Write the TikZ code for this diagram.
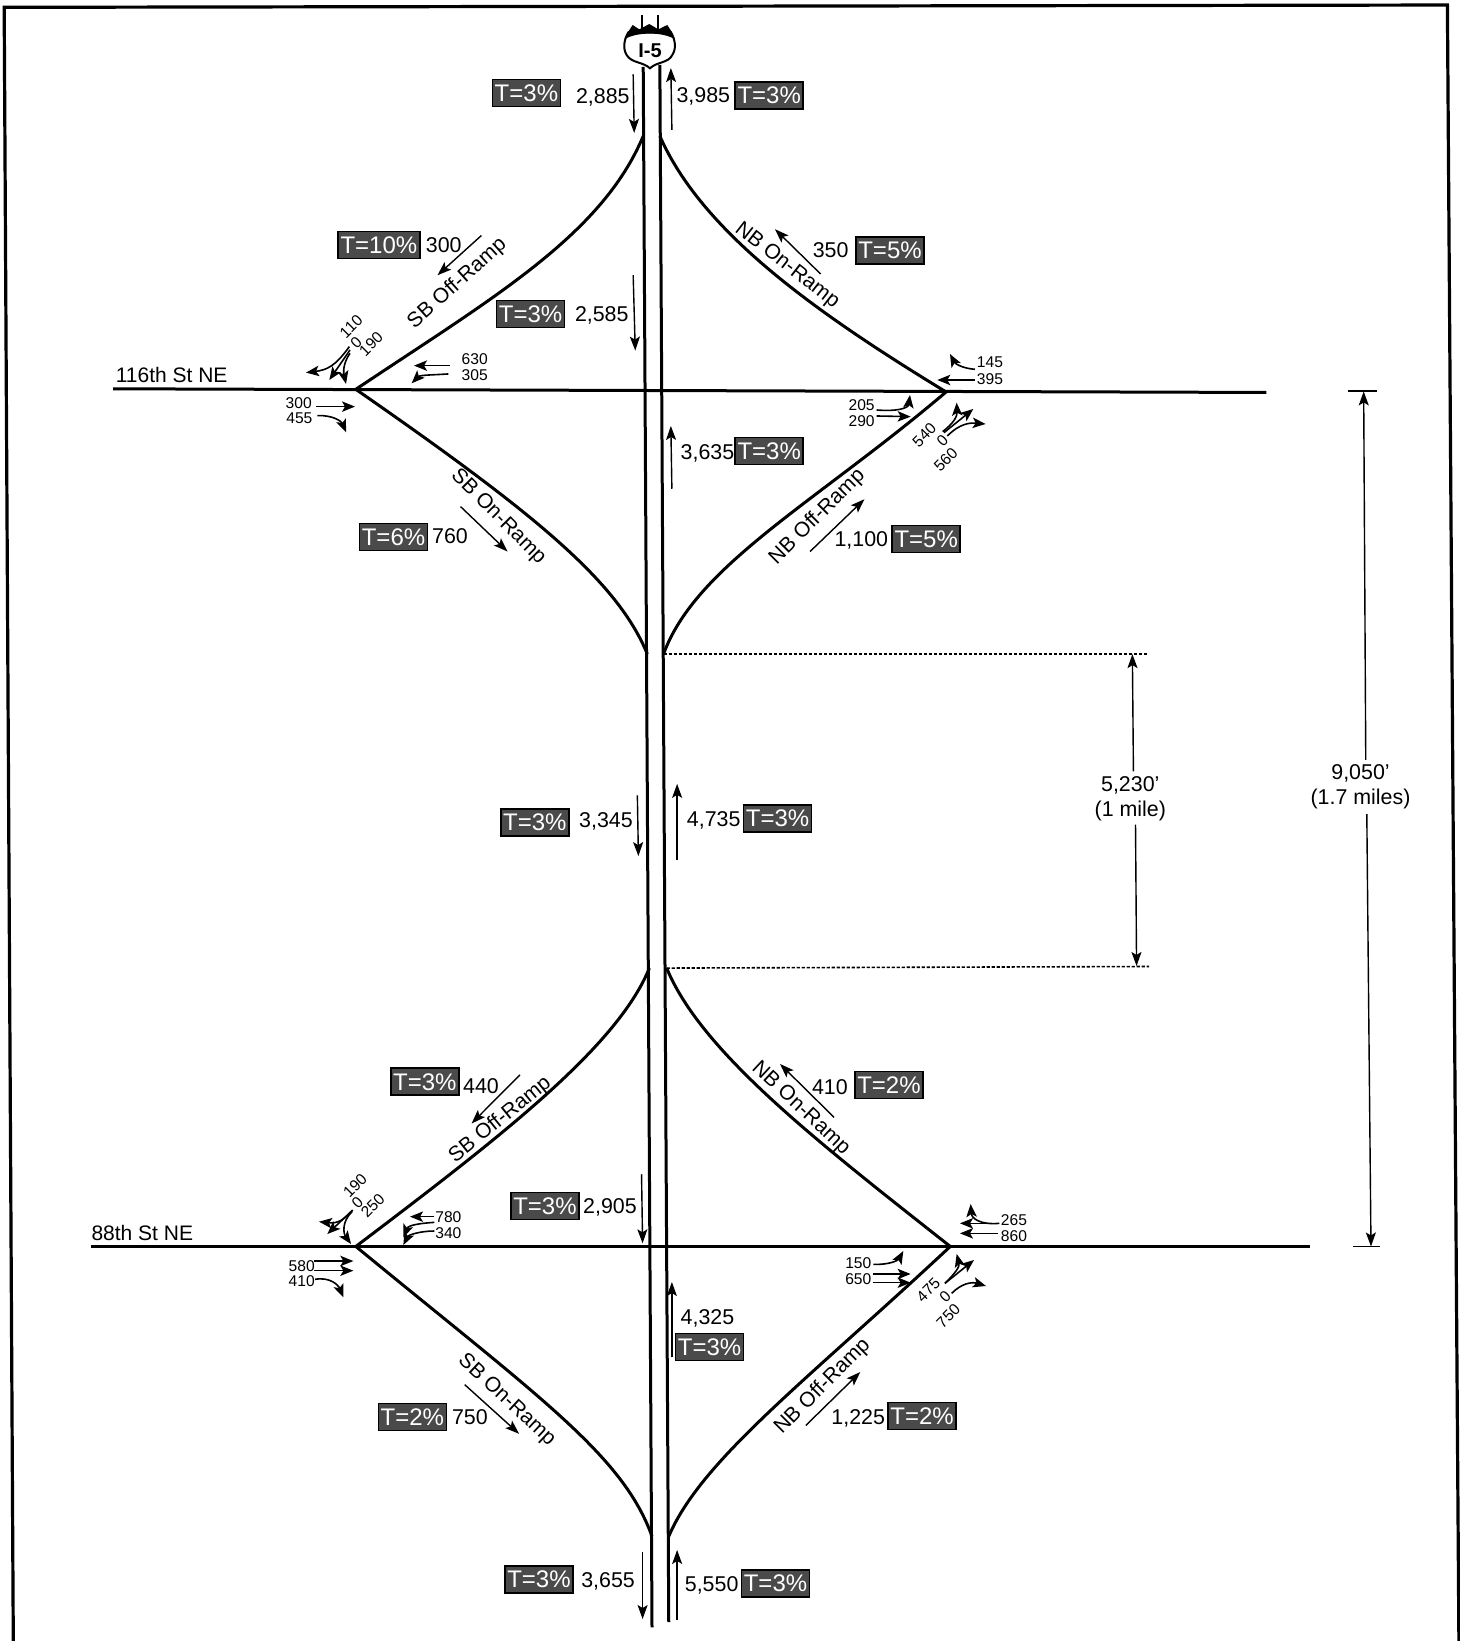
\documentclass[tikz,border=0pt]{standalone}
\usepackage{fontspec}
\setmainfont{Liberation Sans}
\usetikzlibrary{arrows.meta}
\definecolor{boxgray}{HTML}{4A4A4A}
\tikzset{
  base/.style={x=0.5233pt,y=-0.5233pt},
  road/.style={line width=1.5pt,black},
  flow/.style={line width=0.7pt,-{Stealth[length=7pt,width=5pt,inset=1.5pt]}},
  turn/.style={line width=0.8pt,-{Stealth[length=6.5pt,width=5.2pt,inset=1.5pt]}},
  tbox/.style={fill=boxgray,draw=black,line width=0.8pt,text=white,font=\fontsize{12}{12}\selectfont,inner sep=0pt,minimum height=13.5pt,minimum width=34pt,text depth=0pt},
  tboxw/.style={tbox,minimum width=41pt},
  num/.style={font=\fontsize{10.7}{12}\selectfont,inner sep=0pt,text depth=0pt},
  small/.style={font=\fontsize{7.8}{9}\selectfont,inner sep=0pt,text depth=0pt},
  ramp/.style={font=\fontsize{10.5}{12}\selectfont,inner sep=0pt},
  dim/.style={font=\fontsize{10.7}{12.5}\selectfont,align=center,inner sep=0pt},
  zoomI/.style={shift={(458.6,0)},x=0.16667pt,y=-0.16667pt},
  zoomA/.style={shift={(258,286.6)},x=0.16667pt,y=-0.16667pt},
  zoomB/.style={shift={(783.5,315.3)},x=0.16667pt,y=-0.16667pt},
  zoomC/.style={shift={(258,1108.4)},x=0.16667pt,y=-0.16667pt},
  zoomD/.style={shift={(783.5,1127.5)},x=0.16667pt,y=-0.16667pt},
}
\begin{document}
\begin{tikzpicture}[base]
\useasboundingbox (0,0) rectangle (1395,1568);
\fill[white] (0,0) rectangle (1395,1568);
% frame
\draw[line width=1.6pt] (12.7,1568) -- (4,7) -- (1383,4.8) -- (1394,1568);
% coordinates
\coordinate (w1) at (340,372);
\coordinate (e1) at (904,374.5);
\coordinate (w2) at (340,1191);
\coordinate (e2) at (908,1191);
\coordinate (sbA) at (614.6,130);
\coordinate (nbA) at (630.5,130);
\coordinate (sbB) at (618.5,625);
\coordinate (nbB) at (634,625);
\coordinate (sbC) at (620.5,925);
\coordinate (nbC) at (637,925);
\coordinate (sbD) at (623,1468);
\coordinate (nbD) at (639,1468);
% freeway
\draw[road] (614.6,64) -- (623,1555);
\draw[road] (630.5,62) -- (639,1550);
% streets
\draw[road] (108,371.5) -- (1210,375);
\draw[road] (87,1191) -- (1252,1191);
% ramps
\draw[road] (w1) .. controls (470,285) and (575,225) .. (sbA);
\draw[road] (e1) .. controls (775,296) and (670,220) .. (nbA);
\draw[road] (w1) .. controls (510,490) and (590,555) .. (sbB);
\draw[road] (e1) .. controls (780,480) and (665,540) .. (nbB);
\draw[road] (w2) .. controls (480,1085) and (590,1000) .. (sbC);
\draw[road] (e2) .. controls (780,1090) and (670,1005) .. (nbC);
\draw[road] (w2) .. controls (515,1335) and (595,1390) .. (sbD);
\draw[road] (e2) .. controls (770,1320) and (670,1395) .. (nbD);
% dimension lines
\draw[line width=0.8pt,dash pattern=on 1.6pt off 0.9pt] (nbB) -- (1096,625);
\draw[line width=0.8pt,dash pattern=on 1.6pt off 0.9pt] (nbC) -- (1098,923.5);
\draw[flow] (1083,737) -- (1082,625);
\draw[flow] (1085,788) -- (1086,923);
\draw[flow] (1305,726) -- (1303,374);
\draw[flow] (1306,778) -- (1310,1191);
\draw[line width=0.9pt] (1288,373.5) -- (1316,373.5);
\draw[line width=0.9pt] (1293,1191) -- (1319,1191);
\node[dim] (d1) at (1080,763) {5,230'\\(1 mile)};
\node[dim] (d2) at (1300,752) {9,050'\\(1.7 miles)};
% shield
\begin{scope}[zoomI]
\draw[line width=1pt] (487,45) -- (487,90);
\draw[line width=1pt] (535,45) -- (535,90);
\draw[line width=1pt,fill=white] (445,97) .. controls (432,120) and (428,145) .. (440,165) .. controls (455,190) and (490,185) .. (510,205) .. controls (530,185) and (565,190) .. (577,165) .. controls (590,145) and (586,120) .. (573,97) -- cycle;
\fill[black] (433,118) -- (445,95) -- (458,75) -- (478,88) -- (508,72) -- (535,88) -- (562,75) -- (575,95) -- (585,118) .. controls (550,95) and (470,95) .. cycle;
\node[font=\fontsize{10}{12}\selectfont\bfseries,inner sep=0pt] (shield) at (510,153) {I-5};
\end{scope}
% road names
\node[ramp] (n116) at (164,358) {116th St NE};
\node[ramp] (n88) at (136,1178) {88th St NE};
% ramp names
\node[ramp,rotate=42] (r1) at (437,271) {SB Off-Ramp};
\node[ramp,rotate=-38] (r2) at (752,254) {NB On-Ramp};
\node[ramp,rotate=-45] (r3) at (476,494) {SB On-Ramp};
\node[ramp,rotate=45] (r4) at (781,494) {NB Off-Ramp};
\node[ramp,rotate=39] (r5) at (478,1070) {SB Off-Ramp};
\node[ramp,rotate=-43] (r6) at (765,1059) {NB On-Ramp};
\node[ramp,rotate=-43] (r7) at (484,1338) {SB On-Ramp};
\node[ramp,rotate=45] (r8) at (786,1325) {NB Off-Ramp};
% T boxes
\node[tbox] (t1) at (503,89) {T=3\%};
\node[tbox] (t2) at (735,91) {T=3\%};
\node[tboxw] (t3) at (362,234) {T=10\%};
\node[tbox] (t4) at (850.4,239.5) {T=5\%};
\node[tbox] (t5) at (507,300) {T=3\%};
\node[tbox] (t6) at (735,431) {T=3\%};
\node[tbox] (t7) at (376,513) {T=6\%};
\node[tbox] (t8) at (885,515) {T=5\%};
\node[tbox] (t9) at (511,786) {T=3\%};
\node[tbox] (t10) at (743,782) {T=3\%};
\node[tbox] (t11) at (406,1033.5) {T=3\%};
\node[tbox] (t12) at (849.4,1036.7) {T=2\%};
\node[tbox] (t13) at (520.7,1152.3) {T=3\%};
\node[tbox] (t14) at (678,1287) {T=3\%};
\node[tbox] (t15) at (394,1354) {T=2\%};
\node[tbox] (t16) at (881,1353) {T=2\%};
\node[tbox] (t17) at (515,1509) {T=3\%};
\node[tbox] (t18) at (741,1513) {T=3\%};
% volumes
\node[num] (v1) at (576,92) {2,885};
\node[num] (v2) at (672,91) {3,985};
\node[num] (v3) at (424,234) {300};
\node[num] (v4) at (793.7,238.9) {350};
\node[num] (v5) at (575,300) {2,585};
\node[num] (v6) at (676,432) {3,635};
\node[num] (v7) at (430,512) {760};
\node[num] (v8) at (823,515) {1,100};
\node[num] (v9) at (579,784) {3,345};
\node[num] (v10) at (682,783) {4,735};
\node[num] (v11) at (459.6,1037.6) {440};
\node[num] (v12) at (793,1038.3) {410};
\node[num] (v13) at (582.8,1152.3) {2,905};
\node[num] (v14) at (676,1258) {4,325};
\node[num] (v15) at (449,1354) {750};
\node[num] (v16) at (820,1354) {1,225};
\node[num] (v17) at (581,1510) {3,655};
\node[num] (v18) at (680,1514) {5,550};
% flow arrows
\draw[flow] (605,71) -- (606,127);
\draw[flow] (642,124) -- (641,65);
\draw[flow] (460,225) -- (418,263);
\draw[flow] (784.1,261.8) -- (740.5,219);
\draw[flow] (605,263) -- (607,335);
\draw[flow] (642,467) -- (641,407);
\draw[flow] (440,484) -- (485,527);
\draw[flow] (774,527) -- (826,477);
\draw[flow] (609,760) -- (610,818);
\draw[flow] (647,822) -- (647,749);
\draw[flow] (496.8,1027) -- (450.6,1073.5);
\draw[flow] (796.9,1067.6) -- (745.3,1016.6);
\draw[flow] (613,1122) -- (614,1188);
\draw[flow] (642,1297) -- (642,1225);
\draw[flow] (444,1323) -- (496,1370);
\draw[flow] (770,1362) -- (822,1311);
\draw[flow] (614,1483) -- (614,1547);
\draw[flow] (647,1548) -- (647,1481);
% 116th west
\begin{scope}[zoomA]
\node[small,rotate=45] (a1) at (243,80) {110};
\node[small,rotate=45] (a2) at (258,127) {0};
\node[small,rotate=45] (a3) at (303,132) {190};
\node[small] (a4) at (614,178) {630};
\node[small] (a5) at (614,226) {305};
\node[small] (a6) at (86,310) {300};
\node[small] (a7) at (88,355) {455};
\draw[turn] (238,140) .. controls (195,200) and (170,210) .. (108,218);
\draw[turn] (240,150) -- (178,240);
\draw[turn] (240,160) .. controls (215,195) and (222,225) .. (228,252);
\draw[turn] (540,197) -- (432,197);
\draw[turn] (535,222) .. controls (490,225) and (450,225) .. (425,250);
\draw[turn] (138,320) -- (255,320);
\draw[turn] (142,347) .. controls (190,345) and (215,365) .. (228,397);
\end{scope}
% 116th east
\begin{scope}[zoomB]
\node[small] (b1) at (510,97) {145};
\node[small] (b2) at (510,147) {395};
\node[small] (b3) at (125,225) {205};
\node[small] (b4) at (125,272) {290};
\node[small,rotate=45] (b5) at (313,315) {540};
\node[small,rotate=45] (b6) at (367,332) {0};
\node[small,rotate=45] (b7) at (377,388) {560};
\draw[turn] (465,118) .. controls (425,115) and (405,100) .. (390,72);
\draw[turn] (465,150) -- (352,150);
\draw[turn] (170,240) .. controls (230,245) and (265,235) .. (270,195);
\draw[turn] (170,258) -- (272,260);
\draw[turn] (368,305) .. controls (400,280) and (412,260) .. (410,218);
\draw[turn] (372,308) -- (460,237);
\draw[turn] (382,318) .. controls (420,280) and (450,278) .. (497,282);
\end{scope}
% 88th west
\begin{scope}[zoomC]
\node[small,rotate=45] (c1) at (255,77) {190};
\node[small,rotate=45] (c2) at (262,127) {0};
\node[small,rotate=45] (c3) at (308,137) {250};
\node[small] (c4) at (535,172) {780};
\node[small] (c5) at (535,220) {340};
\node[small] (c6) at (95,317) {580};
\node[small] (c7) at (95,364) {410};
\draw[turn] (248,150) .. controls (215,190) and (190,190) .. (147,185);
\draw[turn] (246,152) -- (172,222);
\draw[turn] (246,155) .. controls (215,185) and (220,220) .. (243,252);
\draw[turn] (493,170) -- (420,170);
\draw[turn] (493,187) .. controls (450,190) and (415,195) .. (400,232);
\draw[turn] (493,213) .. controls (450,213) and (415,225) .. (400,255);
\draw[turn] (132,303) -- (250,303);
\draw[turn] (132,332) -- (250,332);
\draw[turn] (135,358) .. controls (180,350) and (205,375) .. (220,412);
\end{scope}
% 88th east
\begin{scope}[zoomD]
\node[small] (d3) at (582,120) {265};
\node[small] (d4) at (582,168) {860};
\node[small] (d5) at (115,250) {150};
\node[small] (d6) at (115,298) {650};
\node[small,rotate=45] (d7) at (325,330) {475};
\node[small,rotate=45] (d8) at (375,350) {0};
\node[small,rotate=45] (d9) at (385,408) {750};
\draw[turn] (538,130) -- (420,130);
\draw[turn] (538,130) .. controls (480,135) and (455,115) .. (452,72);
\draw[turn] (535,160) -- (420,160);
\draw[turn] (160,253) .. controls (210,255) and (235,240) .. (250,213);
\draw[turn] (158,282) -- (272,282);
\draw[turn] (158,308) -- (272,308);
\draw[turn] (375,310) .. controls (405,280) and (420,260) .. (410,222);
\draw[turn] (375,310) -- (462,240);
\draw[turn] (395,340) .. controls (425,310) and (455,305) .. (498,318);
\end{scope}
\end{tikzpicture}
\end{document}
